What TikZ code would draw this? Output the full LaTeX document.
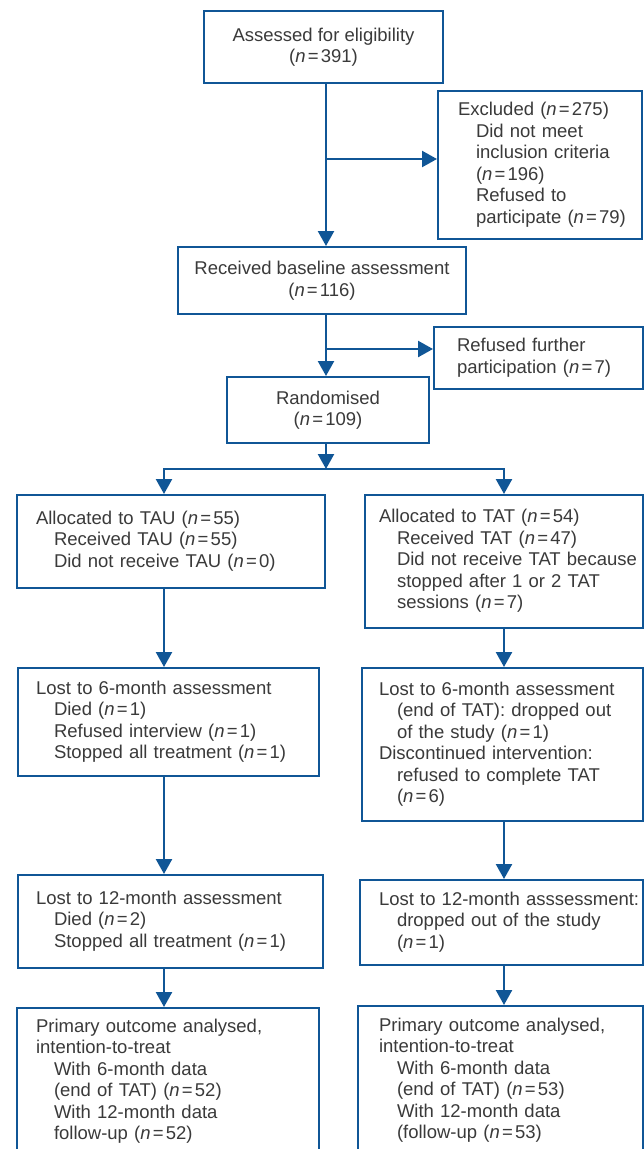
\documentclass[tikz,border=0pt]{standalone}
\usepackage{fontspec}
\setmainfont{Liberation Sans}
\usetikzlibrary{arrows.meta}
\definecolor{flowblue}{RGB}{16,86,150}
\definecolor{txtgrey}{RGB}{58,58,58}
\newcommand\nv[1]{(\textit{n}\kern2.2pt=\kern2.2pt#1)}
\newcommand\il{\hspace*{18pt}}
\newcommand\tl[1]{\begin{tabular}{@{}l@{}}#1\end{tabular}}
\begin{document}
\begin{tikzpicture}[x=1pt,y=-1pt,
  box/.style={draw=flowblue, line width=2pt, text=txtgrey,
    font=\fontsize{18.5pt}{21.5pt}\selectfont, anchor=north west, inner sep=0pt},
  lbox/.style={box, align=left},
  cbox/.style={box, align=center},
  arr/.style={draw=flowblue, line width=2.4pt, -{Triangle[length=15pt,width=16pt]}},
  ln/.style={draw=flowblue, line width=2.4pt, line cap=rect}]
\clip (0,0) rectangle (644,1149);
\fill[white] (0,0) rectangle (644,1149);

% top chain
\node[cbox, minimum width=239pt, minimum height=72pt] (assess) at (203,10)
  {Assessed for eligibility\\\nv{391}};
\node[lbox, inner xsep=20pt, text width=164pt, minimum height=148pt] (excl) at (437,90)
  {\tl{Excluded \nv{275}\\\il Did not meet\\\il inclusion criteria\\\il\nv{196}\\\il Refused to\\\il participate \nv{79}}};
\node[cbox, minimum width=288pt, minimum height=67pt] (base) at (177,246)
  {Received baseline assessment\\\nv{116}};
\node[lbox, inner xsep=23pt, text width=163pt, minimum height=62pt] (refused) at (433,326)
  {\tl{Refused further\\participation \nv{7}}};
\node[cbox, minimum width=202pt, minimum height=66pt] (rand) at (226,376)
  {Randomised\\\nv{109}};

% left column
\node[lbox, inner xsep=19pt, text width=270pt, minimum height=93pt] (tau) at (16,494)
  {\tl{Allocated to TAU \nv{55}\\\il Received TAU \nv{55}\\\il Did not receive TAU \nv{0}}};
\node[lbox, inner xsep=18pt, text width=265pt, minimum height=108pt] (l6tau) at (17,667)
  {\tl{Lost to 6-month assessment\\\il Died \nv{1}\\\il Refused interview \nv{1}\\\il Stopped all treatment \nv{1}}};
\node[lbox, inner xsep=18pt, text width=269pt, minimum height=93pt] (l12tau) at (17,874)
  {\tl{Lost to 12-month assessment\\\il Died \nv{2}\\\il Stopped all treatment \nv{1}}};
\node[lbox, inner xsep=19pt, text width=264pt, minimum height=147pt] (ptau) at (16,1007)
  {\tl{Primary outcome analysed,\\intention-to-treat\\\il With 6-month data\\\il (end of TAT) \nv{52}\\\il With 12-month data\\\il follow-up \nv{52}}};

% right column
\node[lbox, inner xsep=14pt, text width=250pt, minimum height=133pt] (tat) at (364,494)
  {\tl{Allocated to TAT \nv{54}\\\il Received TAT \nv{47}\\\il Did not receive TAT because\\\il stopped after 1 or 2 TAT\\\il sessions \nv{7}}};
\node[lbox, inner xsep=17pt, text width=247pt, minimum height=153pt] (l6tat) at (361,667)
  {\tl{Lost to 6-month assessment\\\il (end of TAT): dropped out\\\il of the study \nv{1}\\Discontinued intervention:\\\il refused to complete TAT\\\il\nv{6}}};
\node[lbox, inner xsep=19pt, text width=245pt, minimum height=85pt] (l12tat) at (359,879)
  {\tl{Lost to 12-month asssessment:\\\il dropped out of the study\\\il\nv{1}}};
\node[lbox, inner xsep=21pt, text width=243pt, minimum height=149pt] (ptat) at (357,1005)
  {\tl{Primary outcome analysed,\\intention-to-treat\\\il With 6-month data\\\il (end of TAT) \nv{53}\\\il With 12-month data\\\il (follow-up \nv{53}}};

% reference coordinates
\coordinate (sp) at (326,0);
\coordinate (L) at (164,0);
\coordinate (R) at (504,0);
\coordinate (b1) at (326,159);
\coordinate (b2) at (326,349);
\coordinate (j) at (326,469);
\coordinate (jl) at (164,469);
\coordinate (jr) at (504,469);

% connectors
\draw[arr] (assess.south -| sp) -- (base.north -| sp);
\draw[arr] (b1) -- (b1 -| excl.west);
\draw[arr] (base.south -| sp) -- (rand.north -| sp);
\draw[arr] (b2) -- (b2 -| refused.west);
\draw[arr] (rand.south -| sp) -- (j);
\draw[ln] (jl) -- (jr);
\draw[arr] (jl) -- (tau.north -| L);
\draw[arr] (jr) -- (tat.north -| R);
\draw[arr] (tau.south -| L) -- (l6tau.north -| L);
\draw[arr] (l6tau.south -| L) -- (l12tau.north -| L);
\draw[arr] (l12tau.south -| L) -- (ptau.north -| L);
\draw[arr] (tat.south -| R) -- (l6tat.north -| R);
\draw[arr] (l6tat.south -| R) -- (l12tat.north -| R);
\draw[arr] (l12tat.south -| R) -- (ptat.north -| R);
\end{tikzpicture}
\end{document}
